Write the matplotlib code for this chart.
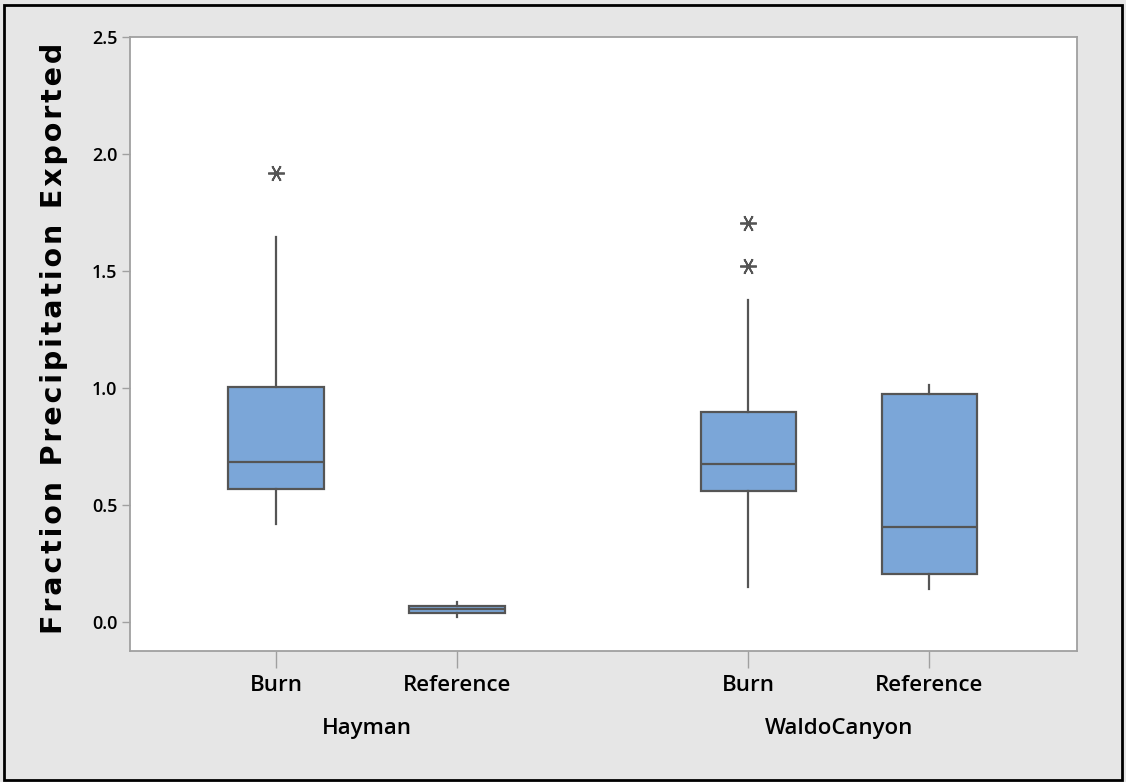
import matplotlib
matplotlib.use("Agg")
import matplotlib.pyplot as plt
from matplotlib.patches import Rectangle

# group / category labels
groups = ["Hayman", "WaldoCanyon"]
categories = ["Burn", "Reference", "Burn", "Reference"]

# box statistics
whisker_low = [0.42, 0.02, 0.148, 0.14]
q1 = [0.570, 0.040, 0.561, 0.206]
median = [0.684, 0.056, 0.675, 0.407]
q3 = [1.004, 0.070, 0.896, 0.973]
whisker_high = [1.645, 0.087, 1.376, 1.011]
outliers = [[1.919], [], [1.704, 1.521], []]

y_ticks = [0.0, 0.5, 1.0, 1.5, 2.0, 2.5]
y_label = "Fraction Precipitation Exported"

positions = [0, 1, 2.61, 3.61]

stats = []
for i in range(len(categories)):
    stats.append({
        "whislo": whisker_low[i], "q1": q1[i], "med": median[i],
        "q3": q3[i], "whishi": whisker_high[i], "fliers": outliers[i],
    })

fig = plt.figure(figsize=(11.26, 7.82), dpi=100)
fig.patch.set_facecolor("#e6e6e6")
ax = fig.add_axes([130 / 1126, 1 - 651 / 782, (1077 - 130) / 1126, (651 - 37) / 782])

edge = "#555555"
ax.bxp(stats, positions=positions, widths=0.53, patch_artist=True, showcaps=False,
       boxprops=dict(facecolor="#7ba6d8", edgecolor=edge, linewidth=1.6),
       medianprops=dict(color=edge, linewidth=1.6),
       whiskerprops=dict(color=edge, linewidth=1.6),
       flierprops=dict(marker=(6, 2, 90), markersize=12, markeredgecolor=edge,
                       markerfacecolor=edge, markeredgewidth=1.3, linestyle="none"))

ax.set_xlim(-0.807, 4.425)
ax.set_ylim(-0.124, 2.5)
ax.set_yticks(y_ticks)
ax.set_yticklabels([f"{v:.1f}" for v in y_ticks])
ax.set_xticks(positions)
ax.set_xticklabels(categories)

for s in ax.spines.values():
    s.set_color("#a0a0a0")
    s.set_linewidth(1.3)

ax.tick_params(axis="y", length=6, width=1, color="#a0a0a0", labelsize=13, pad=3)
ax.tick_params(axis="x", length=12, width=1, color="#a0a0a0", labelsize=16, pad=5)
for lbl in ax.get_yticklabels() + ax.get_xticklabels():
    lbl.set_fontfamily("Open Sans")
    lbl.set_fontweight("semibold")

# group labels under the category labels
for g, i in zip(groups, [0, 2]):
    xmid = (positions[i] + positions[i + 1]) / 2
    ax.annotate(g, xy=(xmid, 0), xycoords=("data", "axes fraction"),
                xytext=(0, -48), textcoords="offset points",
                ha="center", va="top", fontsize=16, fontweight="semibold",
                fontfamily="Open Sans")

# letter-spaced y label (hair spaces between characters)
spaced = "\u200a".join(y_label)
fig.text(54 / 1126, 1 - 338 / 782, spaced,
         rotation=90, ha="center", va="center", fontsize=20.5, fontweight="bold",
         fontfamily="DejaVu Sans")

# outer frame
fig.patches.append(Rectangle((4 / 1126, 2 / 782), 1118 / 1126, 775 / 782,
                             transform=fig.transFigure, fill=False,
                             edgecolor="black", linewidth=2))

fig.savefig("out.png", dpi=100, facecolor=fig.get_facecolor())
